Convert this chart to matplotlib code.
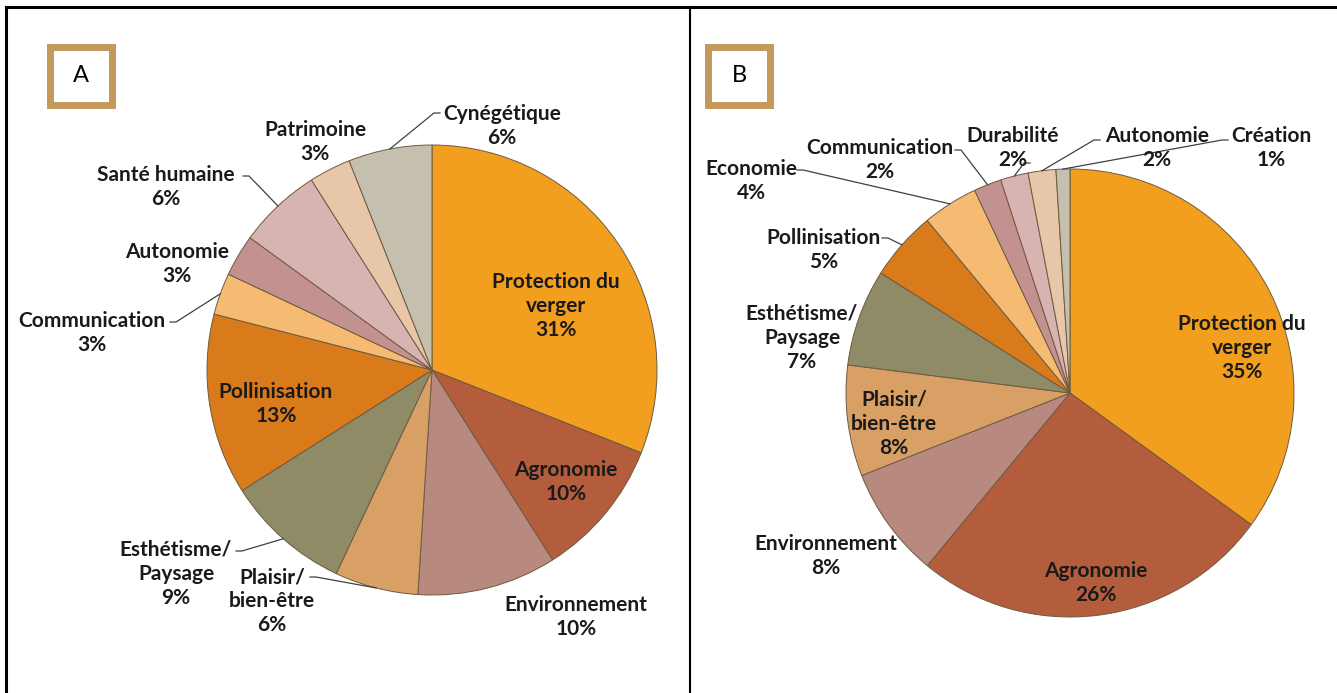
import numpy as np
import matplotlib.pyplot as plt
from matplotlib.patches import Rectangle

W, H = 1337, 693

# slice colours, same order in both pies
colors = ["#F29E1E", "#B35D3D", "#B8897F", "#D9A066", "#8E8B66", "#D97A1B",
          "#F5BB73", "#C39190", "#D7B3B1", "#E7C7A8", "#C5C0AD"]

labels_a = ["Protection du\nverger", "Agronomie", "Environnement", "Plaisir/\nbien-être",
            "Esthétisme/\nPaysage", "Pollinisation", "Communication", "Autonomie",
            "Santé humaine", "Patrimoine", "Cynégétique"]
values_a = [31, 10, 10, 6, 9, 13, 3, 3, 6, 3, 6]

labels_b = ["Protection du\nverger", "Agronomie", "Environnement", "Plaisir/\nbien-être",
            "Esthétisme/\nPaysage", "Pollinisation", "Economie", "Communication",
            "Durabilité", "Autonomie", "Création"]
values_b = [35, 26, 8, 8, 7, 5, 4, 2, 2, 2, 1]

# layout (pixel coords, y down): pie centre/radius, label centres, leader start
center_a, radius_a = (432, 370), 225
pos_a = [(556, 306), (566, 482), (576, 617), (272, 601), (176, 574), (276, 404),
         (92, 333), (177, 264), (166, 187), (315, 142), (502, 126)]
lead_a = [None, None, None, (310, 577), (236, 551), None,
          (170, 322), None, (243, 176), None, (440, 113)]

center_b, radius_b = (1070, 393), 224
pos_b = [(1242, 348), (1096, 583), (826, 556), (894, 424), (802, 338), (824, 250),
         (751, 181), (880, 160), (1013, 148), (1157, 148), (1271, 148)]
lead_b = [None, None, None, None, None, (882, 238),
          (797, 170), (955, 150), (1030, 163), (1100, 140), (1228, 140)]

fig = plt.figure(figsize=(W / 100, H / 100), dpi=100)
ax = fig.add_axes([0, 0, 1, 1])
font = "Lato"


def draw_pie(values, labels, center, radius, pos, lead):
    cx, cy = center[0], H - center[1]
    wedges, _ = ax.pie(values, colors=colors, startangle=90, counterclock=False,
                       center=(cx, cy), radius=radius,
                       wedgeprops=dict(edgecolor="#6E5A40", linewidth=0.7))
    total = sum(values)
    for w, lab, v, p, ld in zip(wedges, labels, values, pos, lead):
        txt = f"{lab}\n{round(100 * v / total)}%"
        ax.text(p[0], H - p[1], txt, ha="center", va="center", fontsize=15,
                fontweight="bold", family=font, color="#1A1A1A", linespacing=1.25)
        if ld is not None:
            mid = np.deg2rad((w.theta1 + w.theta2) / 2)
            ex = cx + radius * np.cos(mid)
            ey = cy + radius * np.sin(mid)
            sx, sy = ld[0], H - ld[1]
            hx = sx + (6 if ex > sx else -6)
            ax.plot([sx, hx, ex], [sy, sy, ey], color="#404040", lw=0.9)


draw_pie(values_a, labels_a, center_a, radius_a, pos_a, lead_a)
draw_pie(values_b, labels_b, center_b, radius_b, pos_b, lead_b)

# table borders
ax.plot([6, 6], [0, H - 7], color="black", lw=2.2)
ax.plot([6, W], [H - 7, H - 7], color="black", lw=2.2)
ax.plot([690, 690], [0, H - 7], color="black", lw=1.5)

# panel letters in boxes
for letter, x0 in [("A", 50), ("B", 708)]:
    ax.add_patch(Rectangle((x0, H - 105), 62, 58, fill=False,
                           edgecolor="#C39A5B", lw=5))
    ax.text(x0 + 31, H - 76, letter, ha="center", va="center", fontsize=17,
            family=font, color="black")

ax.set_xlim(0, W)
ax.set_ylim(0, H)
ax.set_aspect("auto")
ax.axis("off")
fig.savefig("out.png", dpi=100)
